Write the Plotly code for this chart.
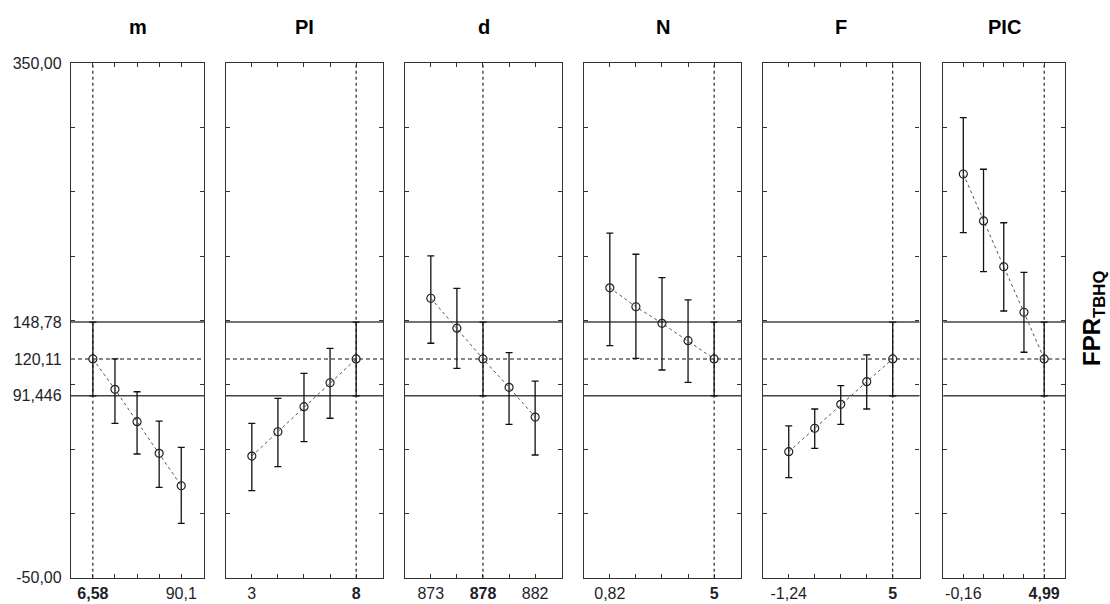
import plotly.graph_objects as go

# ---- data ----
factors = ["m", "PI", "d", "N", "F", "PIC"]
levels = [0, 1, 2, 3, 4]

m_mean = [120.11, 96.5, 71.3, 46.7, 21.5]
m_upper = [148.78, 120.1, 94.6, 71.8, 51.4]
m_lower = [91.446, 70.0, 46.2, 20.3, -7.7]

pi_mean = [44.6, 63.5, 83.0, 101.6, 120.11]
pi_upper = [70.0, 89.5, 108.9, 128.4, 148.78]
pi_lower = [17.7, 36.3, 55.8, 74.0, 91.446]

d_mean = [167.3, 144.0, 120.11, 98.0, 74.9]
d_upper = [200.2, 175.0, 148.78, 125.0, 102.9]
d_lower = [132.3, 112.8, 91.446, 69.3, 45.4]

n_mean = [175.4, 160.7, 147.8, 134.3, 120.11]
n_upper = [218.0, 201.5, 183.3, 166.0, 148.78]
n_lower = [130.4, 120.6, 111.5, 101.9, 91.446]

f_mean = [48.0, 66.2, 84.8, 102.4, 120.11]
f_upper = [68.0, 81.2, 99.3, 123.2, 148.78]
f_lower = [27.8, 50.6, 69.3, 81.2, 91.446]

pic_mean = [263.9, 227.4, 191.8, 156.4, 120.11]
pic_upper = [307.7, 267.6, 226.0, 187.5, 148.78]
pic_lower = [218.3, 188.0, 157.4, 125.3, 91.446]

# labelled x levels per panel (index, text)
x_label_idx = [[0, 4], [0, 4], [0, 2, 4], [0, 4], [0, 4], [0, 4]]
x_label_txt = [
    ["6,58", "90,1"],
    ["3", "8"],
    ["873", "878", "882"],
    ["0,82", "5"],
    ["-1,24", "5"],
    ["-0,16", "4,99"],
]
optimum_index = [0, 4, 2, 4, 4, 4]

y_pred = 120.11
y_ci_upper = 148.78
y_ci_lower = 91.446
y_gridticks = [-50, 0, 50, 100, 150, 200, 250, 300, 350]
y_label_vals = [-50, 91.446, 120.11, 148.78, 350]
y_label_text = ["-50,00", "91,446", "120,11", "148,78", "350,00"]
y_title = "<b>FPR<sub>TBHQ</sub></b>"

means = [m_mean, pi_mean, d_mean, n_mean, f_mean, pic_mean]
uppers = [m_upper, pi_upper, d_upper, n_upper, f_upper, pic_upper]
lowers = [m_lower, pi_lower, d_lower, n_lower, f_lower, pic_lower]

# ---- layout geometry (pixels) ----
W, H = 1110, 604
panel_px = [(71, 204), (226, 383), (405, 562), (584, 741), (763, 919.5), (943.3, 1065)]
top_px, bot_px = 63.3, 577.7
FONT = "Liberation Sans, Arial, sans-serif"
FRAME = "#333333"
TXT = "#1e1e28"

fig = go.Figure()
layout = dict(
    template="none",
    width=W, height=H, margin=dict(l=0, r=0, t=0, b=0, autoexpand=False),
    plot_bgcolor="white", paper_bgcolor="white", showlegend=False,
    font=dict(family=FONT, size=16, color=TXT),
)
shapes = []
annotations = []

for i in range(6):
    n = "" if i == 0 else str(i + 1)
    xa, ya = "x" + n, "y" + n
    mean, up, lo = means[i], uppers[i], lowers[i]
    err_p = [u - v for u, v in zip(up, mean)]
    err_m = [v - l for v, l in zip(mean, lo)]

    for yv, dash, col, w in [(y_ci_upper, "solid", "#444444", 1.5),
                             (y_ci_lower, "solid", "#444444", 1.5),
                             (y_pred, "4px,3px", "#111111", 1.1)]:
        shapes.append(dict(type="line", xref=xa + " domain", yref=ya, x0=0, x1=1,
                           y0=yv, y1=yv, line=dict(color=col, width=w, dash=dash),
                           layer="below"))
    shapes.append(dict(type="line", xref=xa, yref=ya + " domain",
                       x0=levels[optimum_index[i]], x1=levels[optimum_index[i]],
                       y0=0, y1=1, line=dict(color="#111111", width=1.1, dash="3px,3px"),
                       layer="below"))

    fig.add_trace(go.Scatter(
        x=levels, y=mean, xaxis=xa, yaxis=ya, mode="lines+markers",
        line=dict(color="#555555", width=1, dash="3px,3px"),
        marker=dict(symbol="circle-open", size=8, color="#222222", line=dict(width=1.2)),
        error_y=dict(type="data", symmetric=False, array=err_p, arrayminus=err_m,
                     color="#111111", thickness=1.3, width=3.5),
        hoverinfo="skip",
    ))

    tv = [levels[j] for j in x_label_idx[i]]
    tt = [("<b>%s</b>" % t if j == optimum_index[i] else t)
          for j, t in zip(x_label_idx[i], x_label_txt[i])]
    x0p, x1p = panel_px[i]
    layout["xaxis" + n] = dict(
        domain=[x0p / W, x1p / W], range=[-0.99, 5.03], anchor=ya, automargin=False,
        showline=True, mirror="ticks", linecolor=FRAME, linewidth=1.3,
        ticks="inside", ticklen=4, tickcolor=FRAME, tickwidth=1.2,
        tickmode="array", tickvals=tv, ticktext=tt, showgrid=False, zeroline=False,
        ticklabelstandoff=1,
        minor=dict(tickmode="array", tickvals=levels, ticks="inside", ticklen=4,
                   tickcolor=FRAME, tickwidth=1.2, showgrid=False),
        tickfont=dict(size=16, color=TXT), fixedrange=True,
    )
    yd = dict(
        domain=[1 - bot_px / H, 1 - top_px / H], range=[-50, 350], anchor=xa,
        automargin=False,
        showline=True, mirror="ticks", linecolor=FRAME, linewidth=1.3,
        ticks="inside", ticklen=4, tickcolor=FRAME, tickwidth=1.2,
        showgrid=False, zeroline=False, fixedrange=True,
    )
    if i == 0:
        yd.update(tickmode="array", tickvals=y_label_vals, ticktext=y_label_text,
                  tickfont=dict(size=16, color=TXT), ticklen=0, ticklabelstandoff=5,
                  minor=dict(tickmode="array", tickvals=y_gridticks, ticks="inside",
                             ticklen=4, tickcolor=FRAME, tickwidth=1.2, showgrid=False))
    else:
        yd.update(tickmode="array", tickvals=y_gridticks, showticklabels=False)
    layout["yaxis" + n] = yd

    annotations.append(dict(xref=xa + " domain", yref="paper", x=0.5, y=1 - 27 / H,
                            text="<b>%s</b>" % factors[i], showarrow=False,
                            font=dict(size=20, color="#000000", family=FONT),
                            xanchor="center", yanchor="middle"))

annotations.append(dict(xref="paper", yref="paper", x=1093 / W, y=1 - 318 / H,
                        text=y_title, textangle=-90, showarrow=False,
                        font=dict(size=24, color="#000000", family=FONT),
                        xanchor="center", yanchor="middle"))

layout["shapes"] = shapes
layout["annotations"] = annotations
fig.update_layout(**layout)
fig.write_html("out.html")
